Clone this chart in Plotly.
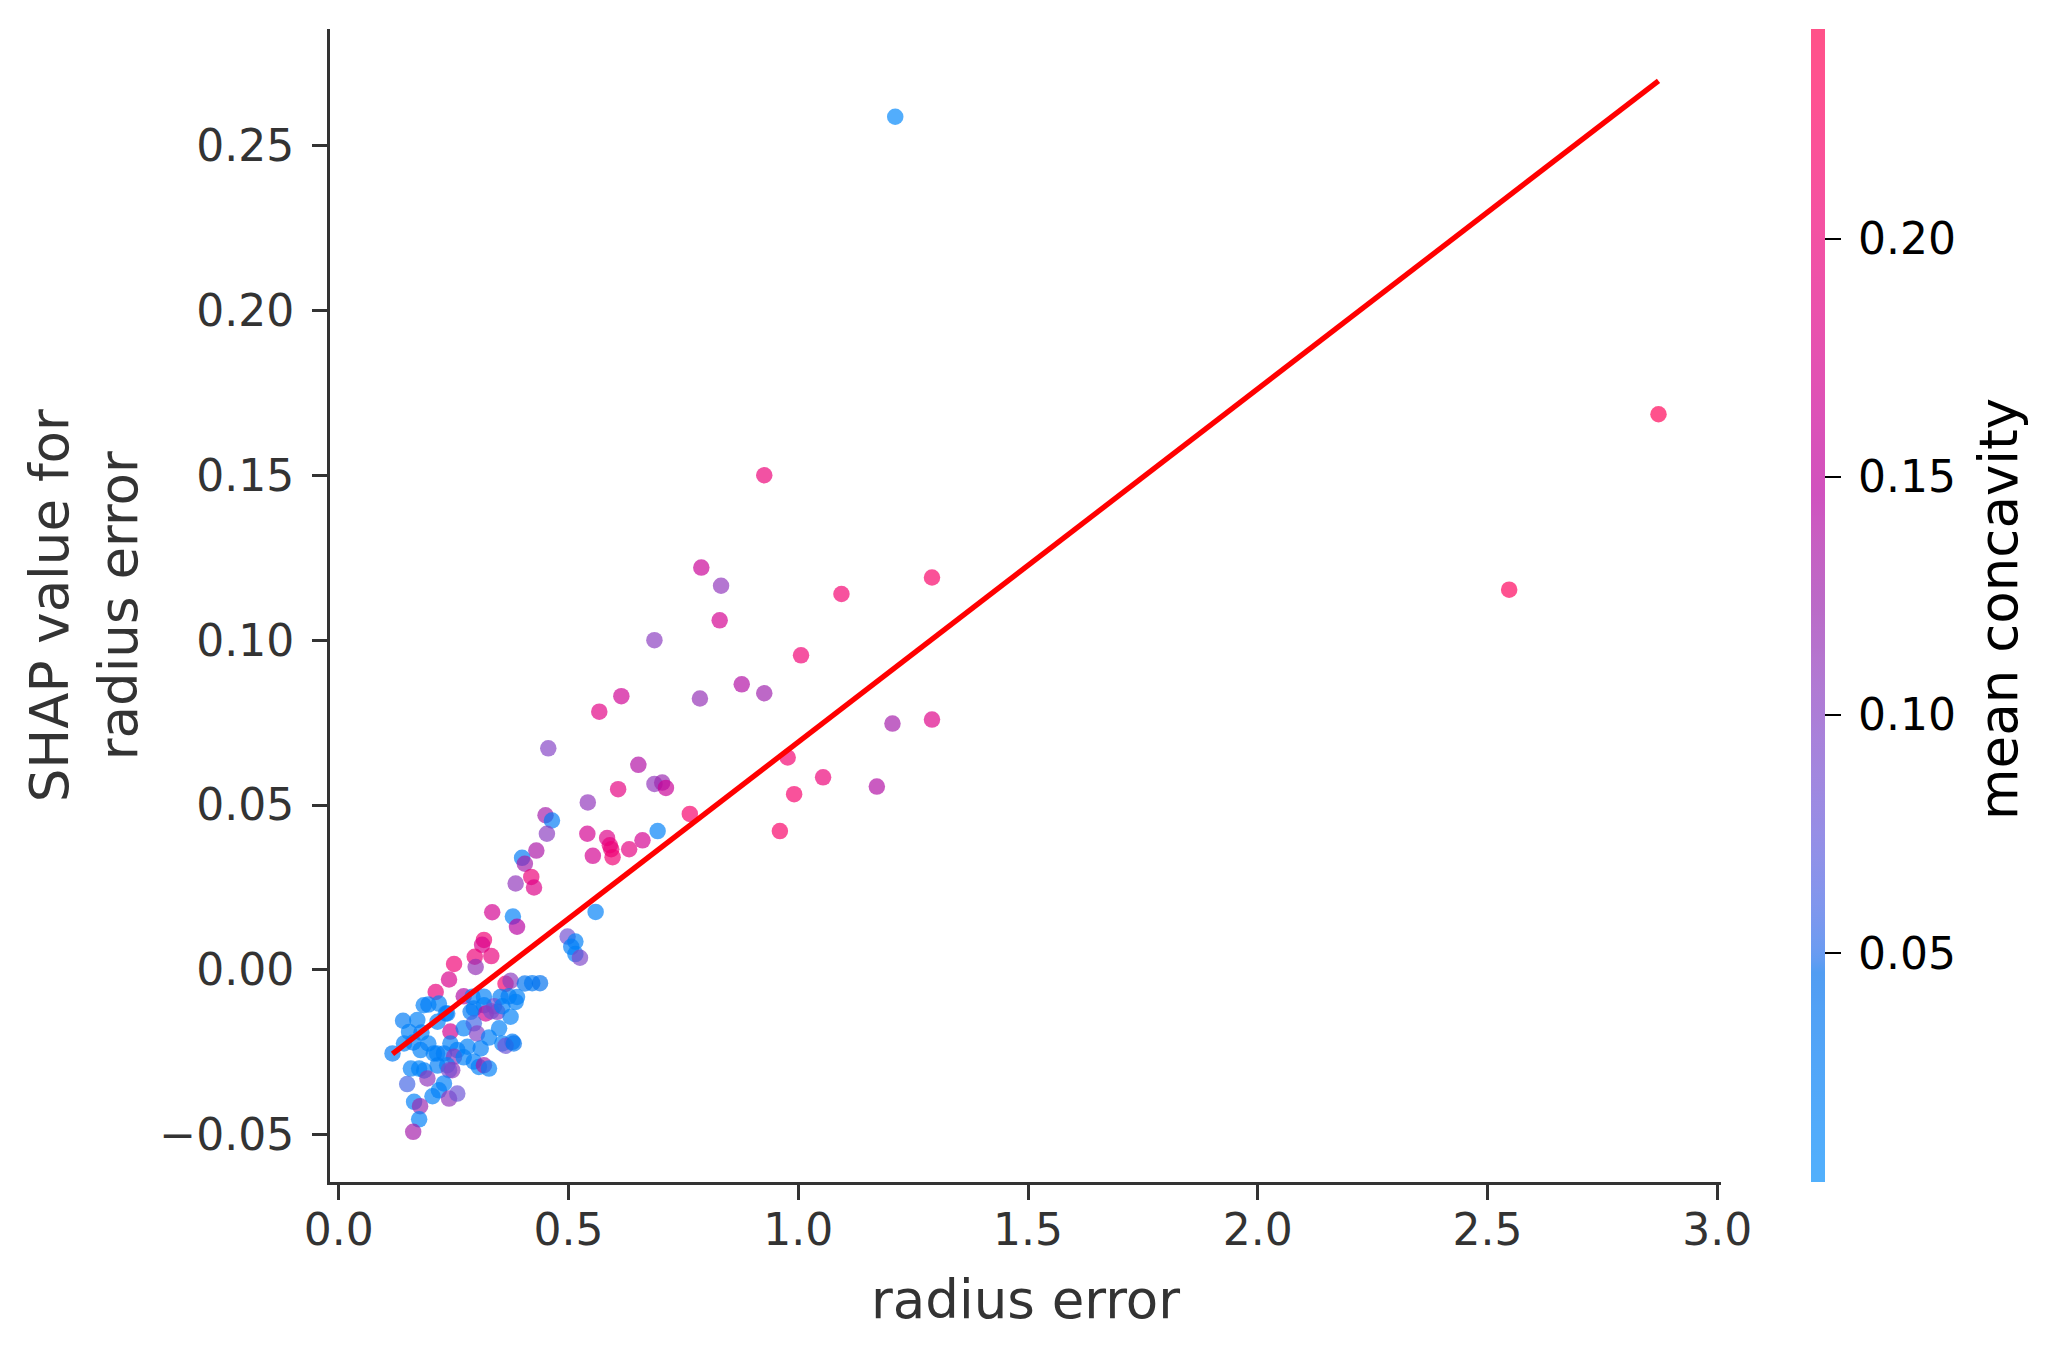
import numpy as np
import plotly.graph_objects as go

# ---- data ----
radius_error = [
    1.211, 2.872, 2.547, 0.926, 0.789, 0.832, 0.829, 1.094, 1.291, 0.687,
    1.006, 0.615, 0.877, 0.786, 0.926, 0.567, 1.205, 1.291, 0.456, 0.652,
    0.977, 0.687, 0.704, 0.712, 0.608, 1.054, 0.991, 1.171, 0.542, 0.764,
    0.450, 0.464, 0.694, 0.960, 0.453, 0.541, 0.584, 0.661, 0.590, 0.593,
    0.632, 0.553, 0.596, 0.430, 0.399, 0.405, 0.385, 0.419, 0.425, 0.334,
    0.379, 0.559, 0.388, 0.316, 0.312, 0.498, 0.515, 0.506, 0.515, 0.525,
    0.296, 0.332, 0.298, 0.251, 0.240, 0.211, 0.272, 0.363, 0.374, 0.405,
    0.421, 0.438, 0.291, 0.316, 0.352, 0.370, 0.388, 0.385, 0.338, 0.185,
    0.195, 0.294, 0.316, 0.320, 0.345, 0.332, 0.374, 0.356, 0.218, 0.233,
    0.236, 0.287, 0.140, 0.171, 0.215, 0.153, 0.180, 0.243, 0.272, 0.294,
    0.301, 0.327, 0.349, 0.142, 0.162, 0.195, 0.117, 0.178, 0.214, 0.243,
    0.258, 0.280, 0.309, 0.356, 0.378, 0.363, 0.381, 0.207, 0.229, 0.251,
    0.272, 0.294, 0.305, 0.316, 0.327, 0.236, 0.215, 0.247, 0.157, 0.175,
    0.186, 0.193, 0.240, 0.149, 0.229, 0.218, 0.204, 0.240, 0.258, 0.164,
    0.177, 0.175, 0.162,
]
shap_value = [
    0.2587, 0.1685, 0.1153, 0.1500, 0.1220, 0.1165, 0.1060, 0.1140, 0.1190, 0.1000,
    0.0954, 0.0830, 0.0866, 0.0823, 0.0839, 0.0783, 0.0747, 0.0759, 0.0672, 0.0622,
    0.0644, 0.0564, 0.0568, 0.0552, 0.0548, 0.0584, 0.0533, 0.0556, 0.0508, 0.0473,
    0.0469, 0.0453, 0.0421, 0.0421, 0.0413, 0.0413, 0.0400, 0.0393, 0.0378, 0.0366,
    0.0366, 0.0346, 0.0342, 0.0362, 0.0340, 0.0322, 0.0262, 0.0282, 0.0250, 0.0175,
    0.0162, 0.0176, 0.0131, 0.0091, 0.0076, 0.0101, 0.0086, 0.0070, 0.0048, 0.0037,
    0.0040, 0.0042, 0.0009, 0.0018, -0.0029, -0.0067, -0.0080, -0.0042, -0.0033, -0.0041,
    -0.0040, -0.0040, -0.0081, -0.0081, -0.0082, -0.0080, -0.0082, -0.0097, -0.0110, -0.0107,
    -0.0105, -0.0117, -0.0107, -0.0132, -0.0127, -0.0125, -0.0142, -0.0110, -0.0102, -0.0132,
    -0.0132, -0.0127, -0.0154, -0.0152, -0.0157, -0.0188, -0.0190, -0.0187, -0.0177, -0.0162,
    -0.0193, -0.0205, -0.0177, -0.0223, -0.0220, -0.0223, -0.0253, -0.0243, -0.0253, -0.0223,
    -0.0243, -0.0233, -0.0238, -0.0223, -0.0218, -0.0230, -0.0223, -0.0253, -0.0253, -0.0263,
    -0.0265, -0.0278, -0.0294, -0.0289, -0.0299, -0.0289, -0.0290, -0.0304, -0.0299, -0.0299,
    -0.0305, -0.0329, -0.0304, -0.0346, -0.0344, -0.0365, -0.0383, -0.0390, -0.0375, -0.0400,
    -0.0413, -0.0453, -0.0491,
]
mean_concavity = [
    0.010, 0.240, 0.232, 0.200, 0.160, 0.110, 0.170, 0.210, 0.220, 0.105,
    0.205, 0.165, 0.140, 0.115, 0.125, 0.185, 0.130, 0.180, 0.100, 0.140,
    0.210, 0.110, 0.120, 0.160, 0.190, 0.200, 0.215, 0.140, 0.110, 0.215,
    0.130, 0.030, 0.020, 0.220, 0.105, 0.170, 0.180, 0.170, 0.195, 0.200,
    0.190, 0.170, 0.205, 0.135, 0.030, 0.130, 0.110, 0.200, 0.180, 0.170,
    0.020, 0.020, 0.145, 0.205, 0.175, 0.085, 0.020, 0.025, 0.020, 0.095,
    0.200, 0.195, 0.115, 0.205, 0.175, 0.195, 0.140, 0.215, 0.105, 0.040,
    0.035, 0.045, 0.020, 0.020, 0.025, 0.030, 0.020, 0.020, 0.090, 0.020,
    0.025, 0.030, 0.020, 0.170, 0.110, 0.090, 0.020, 0.020, 0.020, 0.020,
    0.025, 0.030, 0.030, 0.020, 0.020, 0.020, 0.025, 0.170, 0.020, 0.060,
    0.100, 0.020, 0.020, 0.020, 0.025, 0.020, 0.030, 0.020, 0.020, 0.020,
    0.020, 0.020, 0.025, 0.020, 0.030, 0.080, 0.040, 0.020, 0.025, 0.110,
    0.020, 0.020, 0.020, 0.130, 0.020, 0.020, 0.025, 0.110, 0.020, 0.015,
    0.020, 0.110, 0.090, 0.060, 0.020, 0.020, 0.020, 0.110, 0.080, 0.020,
    0.120, 0.020, 0.130,
]
fit_slope = 0.1071
fit_intercept = -0.0380
y_ticks = [-0.05, 0.00, 0.05, 0.10, 0.15, 0.20, 0.25]
x_ticks = [0.0, 0.5, 1.0, 1.5, 2.0, 2.5, 3.0]
cbar_ticks = [0.05, 0.10, 0.15, 0.20]
c_min, c_max = 0.002, 0.244

# ---- SHAP red_blue colormap (perceptual LCH interpolation) ----
def lch2rgb(l, c, h):
    a = c * np.cos(h)
    b = c * np.sin(h)
    fy = (l + 16) / 116.0
    fx = fy + a / 500.0
    fz = fy - b / 200.0
    def finv(t):
        return t ** 3 if t > 6 / 29 else 3 * (6 / 29) ** 2 * (t - 4 / 29)
    X, Y, Z = 0.95047 * finv(fx), finv(fy), 1.08883 * finv(fz)
    M = np.array([[3.2406, -1.5372, -0.4986],
                  [-0.9689, 1.8758, 0.0415],
                  [0.0557, -0.2040, 1.0570]])
    lin = M @ np.array([X, Y, Z])
    out = np.where(lin > 0.0031308, 1.055 * np.abs(lin) ** (1 / 2.4) - 0.055, 12.92 * lin)
    return np.clip(out, 0, 1)

blue_lch = [54.0, 70.0, 4.6588]
red_lch = [54.0, 90.0, 0.35470565 + 2 * np.pi]
l_mid = 40.0
nsteps = 100
l_vals = list(np.linspace(blue_lch[0], l_mid, nsteps // 2)) + list(np.linspace(l_mid, red_lch[0], nsteps // 2))
c_vals = np.linspace(blue_lch[1], red_lch[1], nsteps)
h_vals = np.linspace(blue_lch[2], red_lch[2], nsteps)
alpha = 0.68
scale_pts, scale_bar = [], []
for pos, l, c, h in zip(np.linspace(0, 1, nsteps), l_vals, c_vals, h_vals):
    rgb = lch2rgb(l, c, h) * 255
    scale_pts.append([float(pos), "rgb(%d,%d,%d)" % tuple(np.round(rgb))])
    light = rgb * alpha + 255 * (1 - alpha)
    scale_bar.append([float(pos), "rgb(%d,%d,%d)" % tuple(np.round(light))])

# ---- figure ----
fig = go.Figure()
fig.add_trace(go.Scatter(
    x=radius_error, y=shap_value, mode="markers",
    marker=dict(size=16.5, color=mean_concavity, colorscale=scale_pts,
                cmin=c_min, cmax=c_max, opacity=alpha, line=dict(width=0),
                showscale=False),
    showlegend=False, hoverinfo="skip"))
# colorbar carrier (invisible markers)
fig.add_trace(go.Scatter(
    x=radius_error, y=shap_value, mode="markers",
    marker=dict(size=1, color=mean_concavity, colorscale=scale_bar,
                cmin=c_min, cmax=c_max, opacity=0, showscale=True,
                colorbar=dict(
                    thickness=14, len=1, lenmode="fraction", y=0.5, yanchor="middle",
                    x=1.0647, xanchor="left", xpad=0, ypad=0, outlinewidth=0,
                    ticks="outside", ticklen=16, tickwidth=2, tickcolor="black",
                    tickvals=cbar_ticks, ticktext=["\u2009%.2f" % v for v in cbar_ticks],
                    tickfont=dict(family="DejaVu Sans", size=44, color="black"))),
    showlegend=False, hoverinfo="skip"))
xl = [min(radius_error), max(radius_error)]
fig.add_trace(go.Scatter(
    x=xl, y=[fit_intercept + fit_slope * v for v in xl], mode="lines",
    line=dict(color="red", width=5.3), showlegend=False, hoverinfo="skip"))

axis_common = dict(showgrid=False, zeroline=False, showline=True, linecolor="#333333",
                   linewidth=3, ticks="outside", ticklen=15, tickwidth=2.5,
                   tickcolor="#333333",
                   tickfont=dict(family="DejaVu Sans", size=44, color="#333333"))
fig.update_xaxes(range=[-0.019, 3.008], tickvals=x_ticks,
                 ticktext=["%.1f" % v for v in x_ticks], ticklabelstandoff=-8, **axis_common)
fig.update_yaxes(range=[-0.0643, 0.2853], tickvals=y_ticks,
                 ticktext=[("%.2f" % v).replace("-", "\u2212") for v in y_ticks],
                 ticklabelstandoff=9, **axis_common)

fig.add_annotation(text="radius error", xref="paper", yref="paper", x=0.5, y=-0.102,
                   xanchor="center", yanchor="middle", showarrow=False,
                   font=dict(family="DejaVu Sans", size=53, color="#333333"))
fig.add_annotation(text="SHAP value for<br>radius error", xref="paper", yref="paper",
                   x=-0.177, y=0.5, xanchor="center", yanchor="middle", textangle=-90,
                   showarrow=False,
                   font=dict(family="DejaVu Sans", size=53, color="#333333"))
fig.add_annotation(text="mean concavity", xref="paper", yref="paper", x=1.1999, y=0.497,
                   xanchor="center", yanchor="middle", textangle=-90, showarrow=False,
                   font=dict(family="DejaVu Sans", size=53, color="black"))

fig.update_layout(width=2055, height=1357, plot_bgcolor="white", paper_bgcolor="white",
                  margin=dict(l=330, r=334, t=29, b=175, pad=0),
                  font=dict(family="DejaVu Sans"))
fig.write_html("out.html")
